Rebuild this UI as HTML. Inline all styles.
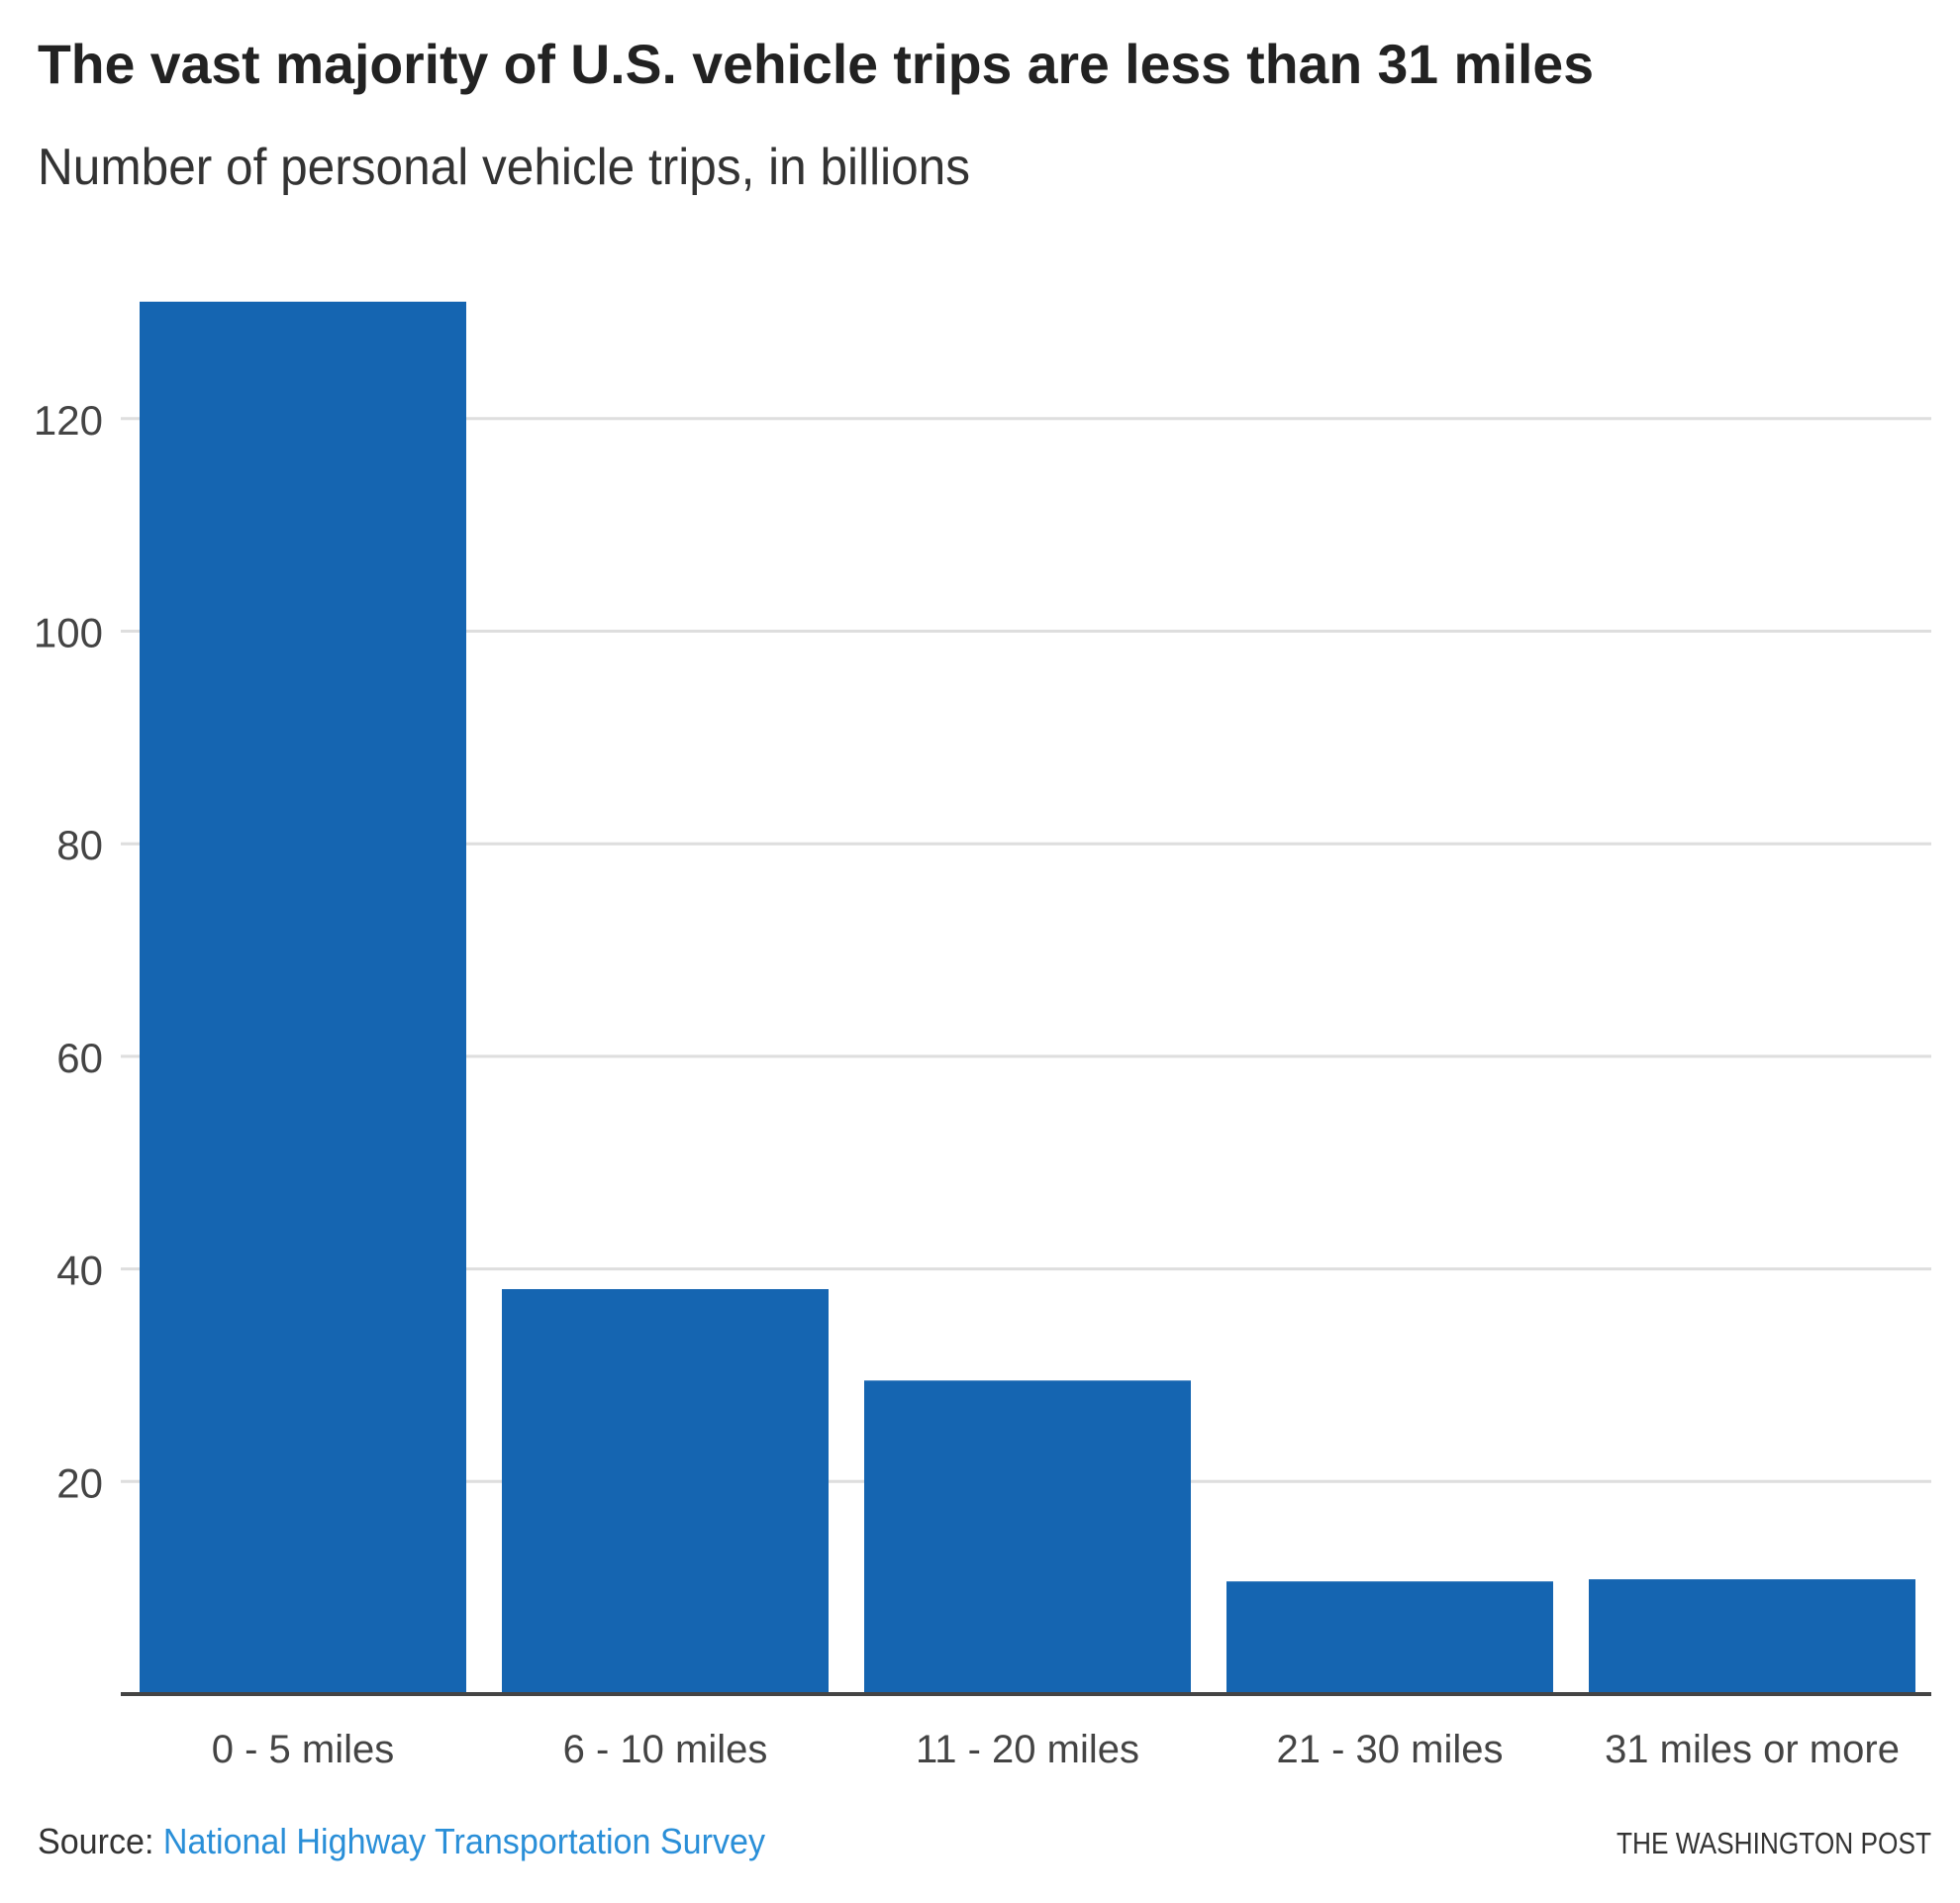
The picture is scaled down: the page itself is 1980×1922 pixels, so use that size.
<!DOCTYPE html>
<html><head><meta charset="utf-8"><style>
html,body{margin:0;padding:0;background:#fff;}
svg{display:block;font-family:"Liberation Sans",sans-serif;}
</style></head><body>
<svg id="chart" width="1980" height="1922" viewBox="0 0 1980 1922">
<text x="38" y="84" font-size="56" font-weight="bold" fill="#222" textLength="1572" lengthAdjust="spacingAndGlyphs">The vast majority of U.S. vehicle trips are less than 31 miles</text>
<text x="38" y="186" font-size="52" fill="#333" textLength="942" lengthAdjust="spacingAndGlyphs">Number of personal vehicle trips, in billions</text>
<g id="grid"></g>
<g id="bars"></g>
<g id="xlabels"></g>
<line x1="122" x2="1951" y1="1711" y2="1711" stroke="#444" stroke-width="4"/>
<text x="38" y="1872" font-size="36" fill="#333" textLength="735" lengthAdjust="spacingAndGlyphs">Source: <tspan fill="#2a8fd8">National Highway Transportation Survey</tspan></text>
<text x="1951" y="1872" font-size="31" fill="#333" text-anchor="end" textLength="318" lengthAdjust="spacingAndGlyphs">THE WASHINGTON POST</text>
</svg>
<script>
const categories = ["0 - 5 miles","6 - 10 miles","11 - 20 miles","21 - 30 miles","31 miles or more"];
const values = [131, 38.1, 29.5, 10.6, 10.8];
const yTicks = [20, 40, 60, 80, 100, 120];
const tickLabels = ["20","40","60","80","100","120"];

const NS = "http://www.w3.org/2000/svg";
const y0 = 1711, pxPerUnit = 10.735;
const yScale = v => y0 - v * pxPerUnit;
const firstX = 141, step = 366, barW = 330;
const xScale = i => firstX + i * step;

const grid = document.getElementById('grid');
yTicks.forEach((t, i) => {
  const l = document.createElementNS(NS, 'line');
  l.setAttribute('x1', 122); l.setAttribute('x2', 1951);
  l.setAttribute('y1', yScale(t)); l.setAttribute('y2', yScale(t));
  l.setAttribute('stroke', '#dedede'); l.setAttribute('stroke-width', '3');
  
  
  grid.appendChild(l);
  const tx = document.createElementNS(NS, 'text');
  tx.setAttribute('x', 104); tx.setAttribute('y', yScale(t) + 16);
  tx.setAttribute('text-anchor', 'end'); tx.setAttribute('font-size', '42');
  tx.setAttribute('fill', '#444');
  tx.textContent = tickLabels[i];
  
  
  grid.appendChild(tx);
});

const bars = document.getElementById('bars');
const xl = document.getElementById('xlabels');
values.forEach((v, i) => {
  const r = document.createElementNS(NS, 'rect');
  r.setAttribute('x', xScale(i)); r.setAttribute('width', barW);
  r.setAttribute('y', yScale(v)); r.setAttribute('height', y0 - yScale(v));
  r.setAttribute('fill', '#1565b1');
  
  
  bars.appendChild(r);
  const t = document.createElementNS(NS, 'text');
  t.setAttribute('x', xScale(i) + barW / 2); t.setAttribute('y', 1780);
  t.setAttribute('text-anchor', 'middle'); t.setAttribute('font-size', '40');
  t.setAttribute('fill', '#444');
  t.textContent = categories[i];
  
  
  xl.appendChild(t);
});
</script>
</body></html>
